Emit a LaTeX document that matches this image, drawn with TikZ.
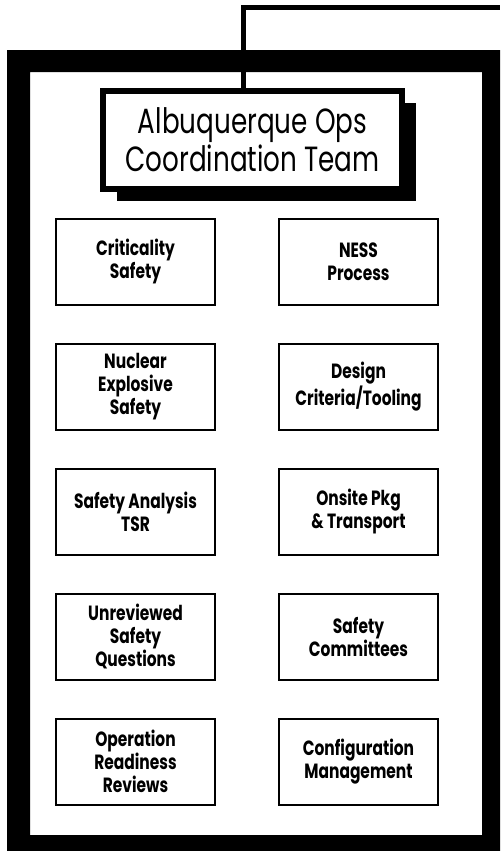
\documentclass[tikz,border=0pt]{standalone}
\usepackage{fontspec}
\setmainfont{Poppins}[FakeStretch=0.75]
\usetikzlibrary{positioning, shadows}
\tikzset{frame/.style={fill=black, even odd rule}}
\tikzset{feed/.style={draw, line width=2.5pt}}
\tikzset{teambox/.style={draw, line width=3pt, fill=white, minimum width=149.5pt, minimum height=49pt, align=center, font=\fontsize{17.5}{15}\selectfont, general shadow={fill=black, shadow xshift=7pt, shadow yshift=-6pt}}}
\tikzset{unit/.style={draw, line width=1pt, fill=white, minimum width=79.5pt, minimum height=43pt, align=center, font=\bfseries\fontsize{10.3}{11.5}\selectfont}}

\begin{document}
\begin{tikzpicture}[x=0.5pt, y=-0.5pt]
	\useasboundingbox (0,0) rectangle (500,851);
	% heavy outer frame
	\fill[frame] (7,50) rectangle (500,851) (30,72) rectangle (482,835);
	%
	\node[teambox] (team) at (252.5,140) {Albuquerque Ops\\Coordination Team};
	\coordinate (exit) at (500,7);
	\draw[feed] ([xshift=-4.75pt]team.north) |- (exit);
	%
	\node[unit] (crit) at (135.5,261.5) {Criticality\\Safety};
	\node[unit, below=18.5pt of crit] (nes) {Nuclear\\Explosive\\Safety};
	\node[unit, below=18.5pt of nes] (sar) {Safety Analysis\\TSR};
	\node[unit, below=18.5pt of sar] (usq) {Unreviewed\\Safety\\Questions};
	\node[unit, below=18.5pt of usq] (orr) {Operation\\Readiness\\Reviews};
	%
	\node[unit, right=31pt of crit] (ness) {NESS\\Process};
	\node[unit, right=31pt of nes] (design) {Design\\Criteria/Tooling};
	\node[unit, right=31pt of sar] (pkg) {Onsite Pkg\\\& Transport};
	\node[unit, right=31pt of usq] (cmte) {Safety\\Committees};
	\node[unit, right=31pt of orr] (config) {Configuration\\Management};
\end{tikzpicture}
\end{document}
